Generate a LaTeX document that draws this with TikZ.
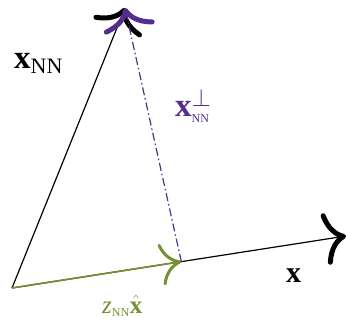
\documentclass[tikz,border=0pt]{standalone}
\usepackage{amsmath,amssymb}
\usepackage{fontspec}
\setmainfont{Liberation Serif}
\usepackage{tikz}
\usetikzlibrary{arrows.meta, calc}
\definecolor{perpcol}{RGB}{85,45,145}
\definecolor{projcol}{RGB}{115,145,50}

\begin{document}
\begin{tikzpicture}[x=1pt, y=-1pt,
    bigtip/.style={-{Computer Modern Rightarrow[length=22pt, width=52pt, line width=5pt]}},
    label/.style={inner sep=0pt, anchor=base west}]

    \useasboundingbox (0,0) rectangle (346,327);

    % Points of the picture
    \coordinate (o) at (12,288);
    \coordinate (xnn) at (125,8);
    \coordinate (xend) at (346,236);
    \coordinate (foot) at ($(o)!0.507!(xend)$);

    % Vectors x and x_NN
    \draw[line width=1.2pt, bigtip] (o) -- (xend);
    \draw[line width=1.2pt, bigtip] (o) -- (xnn);

    % Projection onto x
    \draw[projcol, line width=1.6pt,
        -{Computer Modern Rightarrow[length=21pt, width=42pt, line width=3pt]}] (o) -- (foot);

    % Orthogonal part
    \draw[perpcol, line width=1.2pt, dash pattern=on 8pt off 3pt on 1.5pt off 3pt, bigtip] (foot) -- (xnn);

    % Labels
    \node[label] (lxnn) at (14,68) {\fontsize{33}{36}\selectfont$\textbf{x}_{\text{\fontsize{22}{22}\selectfont NN}}$};
    \node[label, perpcol] (lperp) at (175,116) {\fontsize{33}{36}\selectfont$\textbf{x}^{\perp}_{\text{\fontsize{12}{12}\selectfont NN}}$};
    \node[label, projcol] (lproj) at (102,313) {\fontsize{25}{28}\selectfont$\textit{z}_{\text{\fontsize{12}{12}\selectfont NN}}\hat{\textbf{x}}$};
    \node[label] (lx) at (286,282) {\fontsize{30}{34}\selectfont\textbf{x}};

\end{tikzpicture}
\end{document}
